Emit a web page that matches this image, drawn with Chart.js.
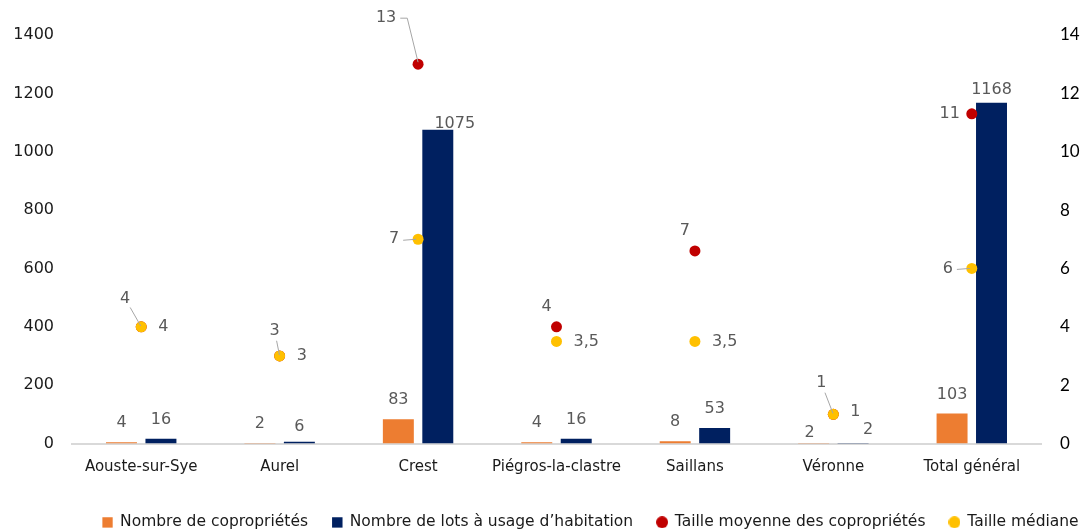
<!DOCTYPE html>
<html>
<head>
<meta charset="utf-8">
<script src="https://cdn.jsdelivr.net/npm/chart.js@4/dist/chart.umd.min.js"></script>
<style>
  html, body { margin: 0; padding: 0; background: #fff; overflow: hidden; }
  #wrap { position: relative; width: 1181px; height: 540px; }
</style>
</head>
<body>
<div id="wrap"><canvas id="myChart"></canvas></div>
<script>
// Data
const communes = ['Aouste-sur-Sye', 'Aurel', 'Crest', 'Piégros-la-clastre', 'Saillans', 'Véronne', 'Total général'];
const nbCoproprietes = [4, 2, 83, 4, 8, 2, 103];
const nbLots = [16, 6, 1075, 16, 53, 2, 1168];
const tailleMoyenne = [4, 3, 13, 4, 6.6, 1, 11.3];
const tailleMediane = [4, 3, 7, 3.5, 3.5, 1, 6];
const leftTicks = [0, 200, 400, 600, 800, 1000, 1200, 1400];
const rightTicks = [0, 2, 4, 6, 8, 10, 12, 14];

// Label placement (offsets from each mark, in px)
const labelPlaces = [
  [{}, {}, {}, {}, {}, {dx: -4, dy: -10}, {}],
  [{}, {dy: -15}, {dx: 17, dy: -6}, {}, {}, {dx: 15, dy: -13}, {dy: -13}],
  [{dx: -16, dy: -28, line: 'diag'}, {dx: -5, dy: -25, line: 'diag'}, {dx: -32, dy: -46, line: 'elbow'},
   {dx: -10, dy: -20}, {dx: -10, dy: -20}, {dx: -12, dy: -31, line: 'diag'}, {dx: -22, dy: 0}],
  [{dx: 17, align: 'left'}, {dx: 17, align: 'left'}, {dx: -24, line: 'h'}, {dx: 17, align: 'left'},
   {dx: 17, align: 'left'}, {dx: 17, dy: -2, align: 'left'}, {dx: -24, line: 'h'}]
];
const formats = [
  v => String(v),
  v => String(v),
  v => String(Math.round(v)),
  v => String(v).replace('.', ',')
];

// small legend markers
function marker(color, round) {
  const cv = document.createElement('canvas');
  cv.width = 12; cv.height = 12;
  const g = cv.getContext('2d');
  g.fillStyle = color;
  if (round) { g.beginPath(); g.arc(6, 6, 6, 0, Math.PI * 2); g.fill(); }
  else g.fillRect(1, 1, 10.5, 10.5);
  return cv;
}
const legendMarkers = [marker('#ED7D31'), marker('#002060'), marker('#C00000', true), marker('#FFC000', true)];

const valueLabels = {
  id: 'valueLabels',
  afterDatasetsDraw(chart) {
    const c = chart.ctx;
    c.save();
    c.font = '16px "DejaVu Sans"';
    c.textBaseline = 'middle';
    c.strokeStyle = '#a6a6a6';
    c.lineWidth = 1;
    chart.data.datasets.forEach((ds, di) => {
      const meta = chart.getDatasetMeta(di);
      meta.data.forEach((el, i) => {
        const p = labelPlaces[di][i] || {};
        const isBar = di < 2;
        const txt = formats[di](ds.data[i]);
        const x = el.x + (p.dx || 0);
        const y = el.y + (p.dy !== undefined ? p.dy : (isBar ? -19 : 0));
        c.textAlign = p.align || 'center';
        c.fillStyle = '#595959';
        c.fillText(txt, x, y);
        const w = c.measureText(txt).width;
        if (p.line === 'diag') {
          const ddx = el.x - x, ddy = el.y - y;
          const len = Math.hypot(ddx, ddy);
          c.beginPath();
          c.moveTo(x + ddx / len * 10, y + ddy / len * 10);
          c.lineTo(el.x - ddx / len, el.y - ddy / len);
          c.stroke();
        } else if (p.line === 'elbow') {
          c.beginPath();
          c.moveTo(x + w / 2 + 4, y);
          c.lineTo(x + w / 2 + 11, y);
          c.lineTo(el.x, el.y - 2);
          c.stroke();
        } else if (p.line === 'h') {
          c.beginPath();
          c.moveTo(x + w / 2 + 4, y + 1);
          c.lineTo(el.x - 2, el.y);
          c.stroke();
        }
      });
    });
    c.restore();
  }
};

const ctx = document.getElementById('myChart').getContext('2d');

const data = {
  labels: communes,
  datasets: [
    {
      type: 'bar',
      label: 'Nombre de copropriétés',
      data: nbCoproprietes,
      backgroundColor: '#ED7D31',
      yAxisID: 'y',
      order: 2,
      categoryPercentage: 0.57,
      barPercentage: 0.785
    },
    {
      type: 'bar',
      label: 'Nombre de lots à usage d’habitation',
      data: nbLots,
      backgroundColor: '#002060',
      yAxisID: 'y',
      order: 3,
      categoryPercentage: 0.57,
      barPercentage: 0.785
    },
    {
      type: 'line',
      label: 'Taille moyenne des copropriétés',
      data: tailleMoyenne,
      showLine: false,
      yAxisID: 'y2',
      order: 1,
      pointStyle: 'circle',
      pointRadius: 5.5,
      pointHoverRadius: 5.5,
      pointBackgroundColor: '#C00000',
      pointBorderColor: '#C00000',
      backgroundColor: '#C00000',
      borderColor: '#C00000',
      pointBorderWidth: 0
    },
    {
      type: 'line',
      label: 'Taille médiane',
      data: tailleMediane,
      showLine: false,
      yAxisID: 'y2',
      order: 0,
      pointStyle: 'circle',
      pointRadius: 5.5,
      pointHoverRadius: 5.5,
      pointBackgroundColor: '#FFC000',
      pointBorderColor: '#FFC000',
      backgroundColor: '#FFC000',
      borderColor: '#FFC000',
      pointBorderWidth: 0
    }
  ]
};

const config = {
  type: 'bar',
  data: data,
  options: {
    responsive: true,
    maintainAspectRatio: false,
    animation: false,
    layout: { padding: { top: 35, bottom: 0, left: 0, right: 0 } },
    plugins: {
      tooltip: { enabled: false },
      legend: {
        position: 'bottom',
        labels: {
          usePointStyle: true,
          boxWidth: 10,
          boxHeight: 10,
          padding: 24,
          color: '#1a1a1a',
          font: { family: '"DejaVu Sans"', size: 15.5 },
          sort: (a, b) => a.datasetIndex - b.datasetIndex,
          generateLabels: chart => {
            const items = Chart.defaults.plugins.legend.labels.generateLabels(chart);
            items.forEach(it => { it.pointStyle = legendMarkers[it.datasetIndex]; });
            return items;
          }
        }
      }
    },
    scales: {
      x: {
        grid: { display: false, drawTicks: false },
        border: { display: true, color: '#d9d9d9', width: 2 },
        ticks: { color: '#1a1a1a', padding: 15, font: { family: '"DejaVu Sans"', size: 15 } },
        afterFit: s => { s.height = 47; }
      },
      y: {
        position: 'left',
        min: 0,
        max: 1400,
        grid: { display: false, drawTicks: false },
        border: { display: false },
        ticks: {
          color: '#1a1a1a', padding: 18, font: { family: '"DejaVu Sans"', size: 16 },
          callback: v => String(v)
        },
        afterBuildTicks: s => { s.ticks = leftTicks.map(v => ({ value: v })); },
        afterFit: s => { s.width = 72; }
      },
      y2: {
        position: 'right',
        min: 0,
        max: 14,
        grid: { display: false, drawTicks: false },
        border: { display: false },
        ticks: {
          color: '#000', padding: 19, font: { family: 'Lato', size: 17 },
          callback: v => String(v)
        },
        afterBuildTicks: s => { s.ticks = rightTicks.map(v => ({ value: v })); },
        afterFit: s => { s.width = 140; }
      }
    }
  },
  plugins: [valueLabels]
};

const mychart = new Chart(ctx, config);
</script>
</body>
</html>
